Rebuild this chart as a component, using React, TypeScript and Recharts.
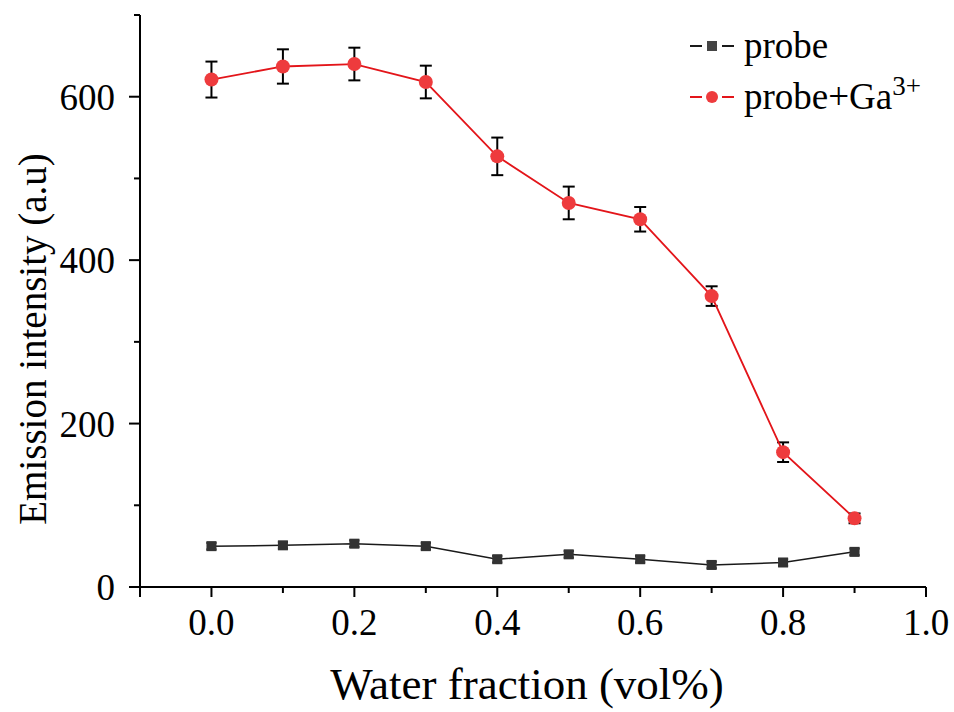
import {
  ErrorBar,
  Label,
  Legend,
  Line,
  LineChart,
  XAxis,
  YAxis,
} from "recharts";

const waterFraction = [0, 0.1, 0.2, 0.3, 0.4, 0.5, 0.6, 0.7, 0.8, 0.9];
const probe = [50, 51, 53, 50, 34, 40, 34, 27, 30, 43];
const probeErr = [4, 4, 4, 4, 4, 4, 4, 4, 4, 4];
const probeGa = [621, 637, 640, 618, 527, 470, 450, 356, 165, 84];
const probeGaErr = [22, 21, 20, 20, 23, 20, 15, 12, 12, 6];

const xTicks = [-0.1, 0, 0.1, 0.2, 0.3, 0.4, 0.5, 0.6, 0.7, 0.8, 0.9, 1.0];
const xLabelTicks = [0, 0.2, 0.4, 0.6, 0.8, 1.0];
const yTicks = [0, 100, 200, 300, 400, 500, 600, 700];
const yLabelTicks = [0, 200, 400, 600];

const FONT = '"Liberation Serif", "Times New Roman", serif';
const RED_LINE = "#e3151a";
const RED_DOT = "#ee3b3d";
const BLACK = "#1a1a1a";

const data = waterFraction.map((x, i) => ({
  x,
  probe: probe[i],
  probeErr: probeErr[i],
  probeGa: probeGa[i],
  probeGaErr: probeGaErr[i],
}));

function isLabelled(value: number, list: number[]) {
  return list.some((v) => Math.abs(v - value) < 1e-6);
}

function XTick({ x, y, payload }: any) {
  const major = isLabelled(payload.value, xLabelTicks) || Math.abs(payload.value + 0.1) < 1e-6;
  const labelled = isLabelled(payload.value, xLabelTicks);
  return (
    <g>
      <line x1={x} y1={y} x2={x} y2={y + (major ? 10 : 6)} stroke="#000" strokeWidth={2} />
      {labelled && (
        <text x={x} y={y + 48} textAnchor="middle" fontFamily={FONT} fontSize={37} fill="#000">
          {payload.value.toFixed(1)}
        </text>
      )}
    </g>
  );
}

function YTick({ x, y, payload }: any) {
  const labelled = isLabelled(payload.value, yLabelTicks);
  return (
    <g>
      <line x1={x} y1={y} x2={x - (labelled ? 11 : 6)} y2={y} stroke="#000" strokeWidth={2} />
      {labelled && (
        <text x={x - 25} y={y} dy="0.35em" textAnchor="end" fontFamily={FONT} fontSize={37} fill="#000">
          {payload.value}
        </text>
      )}
    </g>
  );
}

function SquareDot({ cx, cy, index }: any) {
  return <rect key={`sq-${index}`} x={cx - 5} y={cy - 5} width={10} height={10} fill="#333" />;
}

function LegendContent() {
  const rows = [
    { key: "probe", color: BLACK, fill: "#444", shape: "square", label: <>probe</> },
    {
      key: "probeGa",
      color: RED_LINE,
      fill: RED_DOT,
      shape: "circle",
      label: (
        <>
          probe+Ga<sup style={{ fontSize: 27, verticalAlign: "14px", lineHeight: 0 }}>3+</sup>
        </>
      ),
    },
  ];
  return (
    <div style={{ fontFamily: FONT, fontSize: 37, color: "#000" }}>
      {rows.map((r) => (
        <div key={r.key} style={{ display: "flex", alignItems: "center", height: 51, whiteSpace: "nowrap" }}>
          <svg width={44} height={20}>
            <line x1={0} y1={10} x2={12} y2={10} stroke={r.color} strokeWidth={2} />
            <line x1={32} y1={10} x2={44} y2={10} stroke={r.color} strokeWidth={2} />
            {r.shape === "square" ? (
              <rect x={17} y={5} width={10} height={10} fill={r.fill} />
            ) : (
              <circle cx={22} cy={10} r={6} fill={r.fill} />
            )}
          </svg>
          <span style={{ marginLeft: 10 }}>{r.label}</span>
        </div>
      ))}
    </div>
  );
}

export default function App() {
  return (
    <div style={{ position: "absolute", left: 0, top: 0, width: 954, height: 712, background: "#fff" }}>
      <LineChart width={954} height={712} data={data} margin={{ top: 15, right: 28, bottom: 0, left: 0 }}>
        <XAxis
          dataKey="x"
          type="number"
          domain={[-0.1, 1.0]}
          ticks={xTicks}
          interval={0}
          tick={<XTick />}
          tickLine={false}
          tickSize={0}
          tickMargin={0}
          height={125}
          axisLine={{ stroke: "#000", strokeWidth: 2 }}
        >
          <Label
            value="Water fraction (vol%)"
            position="insideBottom"
            offset={13}
            dx={-6}
            style={{ fontFamily: FONT, fontSize: 45, fill: "#000" }}
          />
        </XAxis>
        <XAxis
          xAxisId="top"
          orientation="top"
          type="number"
          domain={[-0.1, 1.0]}
          tick={false}
          tickLine={false}
          height={0}
          axisLine={{ stroke: "#000", strokeWidth: 2 }}
        />
        <YAxis
          type="number"
          domain={[0, 700]}
          ticks={yTicks}
          interval={0}
          tick={<YTick />}
          tickLine={false}
          tickSize={0}
          tickMargin={0}
          width={140}
          axisLine={{ stroke: "#000", strokeWidth: 2 }}
        >
          <Label
            value="Emission intensity (a.u)"
            angle={-90}
            position="insideLeft"
            offset={32}
            dy={38}
            style={{ fontFamily: FONT, fontSize: 39, fill: "#000", textAnchor: "middle" }}
          />
        </YAxis>
        <YAxis
          yAxisId="right"
          orientation="right"
          type="number"
          domain={[0, 700]}
          tick={false}
          tickLine={false}
          width={0}
          axisLine={{ stroke: "#000", strokeWidth: 2 }}
        />
        <Legend
          layout="vertical"
          align="center"
          verticalAlign="middle"
          content={<LegendContent />}
          wrapperStyle={{ top: 20, left: 690, width: "auto" }}
        />
        <Line
          dataKey="probe"
          type="linear"
          stroke={BLACK}
          strokeWidth={1.5}
          dot={<SquareDot />}
          activeDot={false}
          isAnimationActive={false}
        >
          <ErrorBar dataKey="probeErr" direction="y" width={5} stroke="#000" strokeWidth={2} />
        </Line>
        <Line
          dataKey="probeGa"
          type="linear"
          stroke={RED_LINE}
          strokeWidth={1.8}
          dot={{ r: 7, fill: RED_DOT, stroke: "none" }}
          activeDot={false}
          isAnimationActive={false}
        >
          <ErrorBar dataKey="probeGaErr" direction="y" width={6} stroke="#000" strokeWidth={2} />
        </Line>
      </LineChart>
    </div>
  );
}
